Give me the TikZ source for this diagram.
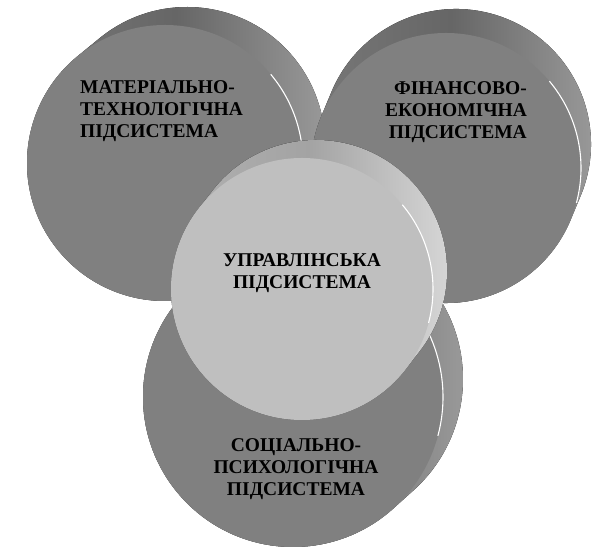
\documentclass[tikz,border=0pt]{standalone}
\usepackage{fontspec}
\setmainfont{Liberation Serif}

\begin{document}
\begin{tikzpicture}[x=1pt, y=1pt,
    subsys/.style={font=\bfseries\fontsize{19.5}{22}\selectfont, inner sep=0pt, text=black}]
    \useasboundingbox (0,0) rectangle (592,548);
    % discs: centre / radius / shift of back face / face, dark, darker, light
    \foreach \cx/\cy/\r/\dx/\dy/\fc/\lo/\mi/\hi in {
        165/385/138/22/18/50/52/60/38,
        446/380/135/10/24/50/52/60/38,
        293/151/150/20/18/50/52/60/38,
        302/259/131/14/18/25/30/36/14}{
      \pgfmathsetmacro\ta{atan2(\dy,\dx)+90}
      \pgfmathsetmacro\tb{\ta-180}
      \pgfmathsetmacro\tc{\tb-180}
      \begin{scope}[shift={(\cx,\cy)}]
        \fill[left color=black!\lo, right color=black!\hi, middle color=black!\mi]
          ([shift={(\dx,\dy)}]\ta:\r) arc[start angle=\ta, end angle=\tb, radius=\r]
          -- (\tb:\r) arc[start angle=\tb, end angle=\tc, radius=\r] -- cycle;
        \fill[black!\fc] (0,0) circle (\r);
        \draw[white, line width=1.1pt] (-15:\r) arc[start angle=-15, end angle=40, radius=\r];
      \end{scope}
    }
    \node[subsys, anchor=west, align=left] (mat) at (80,437) {МАТЕРІАЛЬНО-\\ТЕХНОЛОГІЧНА\\ПІДСИСТЕМА};
    \node[subsys, anchor=east, align=right] (fin) at (527,436) {ФІНАНСОВО-\\ЕКОНОМІЧНА\\ПІДСИСТЕМА};
    \node[subsys, align=center] (upr) at (302,275) {УПРАВЛІНСЬКА\\ПІДСИСТЕМА};
    \node[subsys, align=center] (soc) at (296,79) {СОЦІАЛЬНО-\\ПСИХОЛОГІЧНА\\ПІДСИСТЕМА};
\end{tikzpicture}
\end{document}
